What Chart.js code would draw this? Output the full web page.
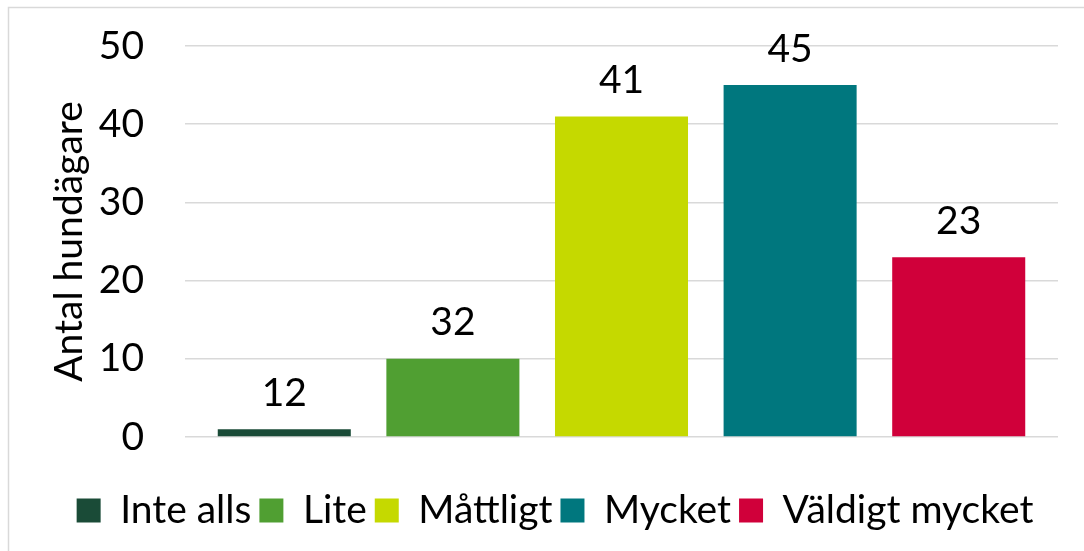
<!DOCTYPE html>
<html>
<head>
<meta charset="utf-8">
<script src="https://cdn.jsdelivr.net/npm/chart.js@4"></script>
<style>
  html, body { margin: 0; padding: 0; background: #fff; }
  #wrap { width: 1084px; height: 551px; position: relative; }
</style>
</head>
<body>
<div id="wrap"><canvas id="c" width="1084" height="551"></canvas></div>
<script>
const seriesNames = ['Inte alls', 'Lite', 'Måttligt', 'Mycket', 'Väldigt mycket'];
const barValues = [1, 10, 41, 45, 23];
const labelValues = [12, 32, 41, 45, 23];
const seriesColors = ['#1A4B37', '#509F32', '#C5D900', '#00777E', '#D0003A'];
const yTicks = [0, 10, 20, 30, 40, 50];
const yTitle = 'Antal hundägare';

const FONT = 'Lato, "Open Sans", sans-serif';
const FS = 39;

const datasets = seriesNames.map((name, i) => ({
  label: name,
  data: [barValues[i]],
  valueLabel: labelValues[i],
  backgroundColor: seriesColors[i],
  borderWidth: 0,
  categoryPercentage: 0.9657,
  barPercentage: 0.789
}));

const labelPlugin = {
  id: 'valueLabels',
  afterDatasetsDraw(chart) {
    const ctx = chart.ctx;
    ctx.save();
    ctx.font = FS + 'px ' + FONT;
    ctx.fillStyle = '#000';
    ctx.textAlign = 'center';
    ctx.textBaseline = 'middle';
    chart.data.datasets.forEach((ds, i) => {
      const meta = chart.getDatasetMeta(i);
      meta.data.forEach(el => {
        ctx.fillText(String(ds.valueLabel), el.x, el.y - 36);
      });
    });
    ctx.restore();
  }
};

const borderPlugin = {
  id: 'frame',
  beforeDraw(chart) {
    const ctx = chart.ctx;
    ctx.save();
    ctx.strokeStyle = '#d9d9d9';
    ctx.lineWidth = 1.5;
    ctx.beginPath();
    ctx.moveTo(8.5, 551);
    ctx.lineTo(8.5, 7.5);
    ctx.lineTo(1084, 7.5);
    ctx.stroke();
    ctx.restore();
  }
};

const legendShift = {
  id: 'legendShift',
  afterLayout(chart) {
    if (chart.legend) {
      chart.legend.left += 26;
      chart.legend.right += 26;
    }
  }
};

new Chart(document.getElementById('c'), {
  type: 'bar',
  data: { labels: [''], datasets },
  options: {
    responsive: false,
    animation: false,
    devicePixelRatio: 1,
    layout: { padding: { top: 46, right: 26, left: 0, bottom: 11 } },
    plugins: {
      legend: {
        position: 'bottom',
        labels: {
          font: { family: FONT, size: FS },
          color: '#000',
          boxWidth: 24,
          boxHeight: 24,
          padding: 8
        }
      },
      tooltip: { enabled: false }
    },
    scales: {
      x: {
        display: true,
        ticks: { display: false },
        grid: { display: false },
        border: { display: false },
        afterFit(scale) { scale.height = 46; }
      },
      y: {
        min: 0,
        max: 50,
        afterBuildTicks(scale) { scale.ticks = yTicks.map(v => ({ value: v })); },
        ticks: {
          font: { family: FONT, size: FS },
          color: '#000',
          padding: 41
        },
        grid: { color: '#d9d9d9', lineWidth: 1.5, drawTicks: false },
        border: { display: false },
        title: {
          display: true,
          text: yTitle,
          font: { family: FONT, size: FS },
          color: '#000',
          padding: { top: 46, bottom: 0 }
        },
        afterFit(scale) {
          scale.width = 185;
          scale.paddingTop = 0;
          scale.paddingBottom = 0;
        }
      }
    }
  },
  plugins: [labelPlugin, borderPlugin, legendShift]
});
</script>
</body>
</html>
